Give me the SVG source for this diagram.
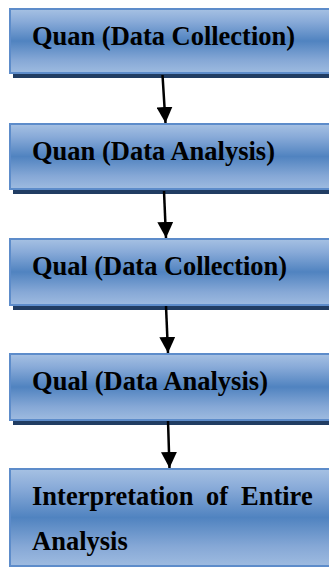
<svg xmlns="http://www.w3.org/2000/svg" width="329" height="567" viewBox="0 0 329 567">
  <defs>
    <linearGradient id="boxFill" x1="0" y1="0" x2="0" y2="1">
      <stop offset="0" stop-color="#a6c1e3"/>
      <stop offset="0.2" stop-color="#88aad8"/>
      <stop offset="0.5" stop-color="#5083c0"/>
      <stop offset="0.8" stop-color="#86a8d6"/>
      <stop offset="1" stop-color="#9ebbe0"/>
    </linearGradient>
    <marker id="head" viewBox="0 0 10 10" refX="10" refY="5" markerWidth="6.4" markerHeight="6.4" markerUnits="strokeWidth" orient="auto">
      <path d="M0,0 L10,5 L0,10 Z" fill="#000"/>
    </marker>
  </defs>
  <style>
    .shadow { fill: #213d63; }
    .box { fill: url(#boxFill); stroke: #5d8cca; stroke-width: 2; }
    .label { font-family: "Liberation Serif", "Times New Roman", serif; font-weight: bold; font-size: 26.5px; fill: #000; }
    .conn { stroke: #000; stroke-width: 2.5; fill: none; marker-end: url(#head); }
  </style>

  <rect width="329" height="567" fill="#fff"/>

  <g id="quan-collection">
    <rect class="shadow" x="13" y="72" width="320" height="6"/>
    <rect class="box" x="10" y="9" width="325" height="64"/>
    <text class="label" x="32" y="45" textLength="263" lengthAdjust="spacing">Quan (Data Collection)</text>
  </g>

  <g id="quan-analysis">
    <rect class="shadow" x="13" y="188" width="320" height="6"/>
    <rect class="box" x="10" y="124" width="325" height="65"/>
    <text class="label" x="32" y="160" textLength="243" lengthAdjust="spacing">Quan (Data Analysis)</text>
  </g>

  <g id="qual-collection">
    <rect class="shadow" x="13" y="304" width="320" height="6"/>
    <rect class="box" x="10" y="239" width="325" height="66"/>
    <text class="label" x="32" y="275" textLength="255" lengthAdjust="spacing">Qual (Data Collection)</text>
  </g>

  <g id="qual-analysis">
    <rect class="shadow" x="13" y="419" width="320" height="6"/>
    <rect class="box" x="10" y="354" width="325" height="66"/>
    <text class="label" x="32" y="390" textLength="236" lengthAdjust="spacing">Qual (Data Analysis)</text>
  </g>

  <g id="interpretation">
    <rect class="box" x="10" y="469" width="325" height="97"/>
    <!-- justified first line: words placed individually -->
    <text class="label" x="32" y="505">Interpretation</text>
    <text class="label" x="206" y="505">of</text>
    <text class="label" x="241" y="505">Entire</text>
    <text class="label" x="32" y="550">Analysis</text>
  </g>

  <g id="connectors">
    <line class="conn" x1="162.5" y1="75" x2="165.5" y2="123"/>
    <line class="conn" x1="164" y1="191" x2="166" y2="238"/>
    <line class="conn" x1="166" y1="306" x2="168" y2="353"/>
    <line class="conn" x1="168" y1="421" x2="169.5" y2="468"/>
  </g>
</svg>
